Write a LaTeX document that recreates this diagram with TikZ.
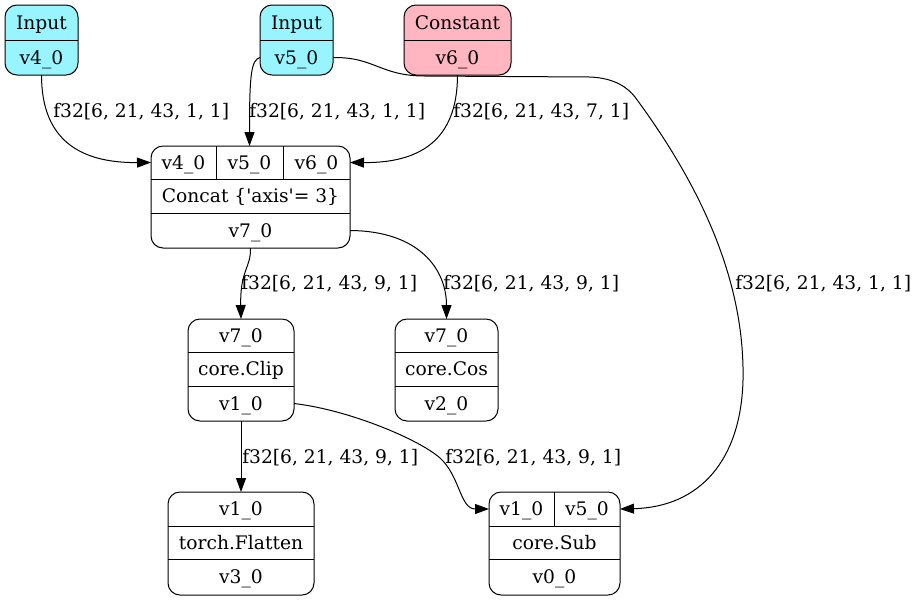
\documentclass[tikz,border=0pt]{standalone}
\usepackage{fontspec}
\setmainfont{DejaVu Serif}
\usetikzlibrary{arrows.meta}
\definecolor{inpc}{HTML}{98F5FF}
\definecolor{constc}{HTML}{FFB6C1}
\begin{document}
\begin{tikzpicture}[x=0.75pt,y=-0.75pt,
  font=\fontsize{14pt}{16pt}\selectfont,
  recbox/.style={draw, rounded corners=9pt, inner sep=0pt, outer sep=0pt, line width=0.75pt},
  sz/.style 2 args={minimum width=#1*0.75pt, minimum height=#2*0.75pt},
  fld/.style={inner sep=0pt, anchor=center, text height=10.2pt, text depth=0pt},
  lbl/.style={inner sep=0pt, anchor=west, text height=10.2pt, text depth=0pt},
  conn/.style={line width=0.75pt, -{Triangle[length=10.5pt,width=7.5pt]}},
  divl/.style={line width=0.7pt}]
\useasboundingbox (0,0) rectangle (917,601);

% Input v4_0
\node[recbox, fill=inpc, sz={73}{70}] (in4) at (41.5,40) {};
\draw[divl] (5,40) -- (78,40);
\node[fld] (in4t) at (41.5,22.5) {Input};
\node[fld] (in4b) at (41.5,57.5) {v4\_0};

% Input v5_0
\node[recbox, fill=inpc, sz={73}{70}] (in5) at (296.5,40) {};
\draw[divl] (260,40) -- (333,40);
\node[fld] (in5t) at (296.5,22.5) {Input};
\node[fld] (in5b) at (296.5,57.5) {v5\_0};

% Constant v6_0
\node[recbox, fill=constc, sz={107}{70}] (in6) at (457.5,40) {};
\draw[divl] (404,40) -- (511,40);
\node[fld] (in6t) at (457.5,22.5) {Constant};
\node[fld] (in6b) at (457.5,57.5) {v6\_0};

% Concat
\node[recbox, sz={199}{102}] (cc) at (250.5,197) {};
\draw[divl] (151,179) -- (350,179);
\draw[divl] (151,213) -- (350,213);
\draw[divl] (216,146) -- (216,179);
\draw[divl] (283,146) -- (283,179);
\node[fld] (cc4) at (183.5,162.5) {v4\_0};
\node[fld] (cc5) at (249.5,162.5) {v5\_0};
\node[fld] (cc6) at (316.5,162.5) {v6\_0};
\node[fld] (ccop) at (250.5,196) {Concat \{\textquotesingle axis\textquotesingle= 3\}};
\node[fld] (cc7) at (250.5,230.5) {v7\_0};

% Clip
\node[recbox, sz={106}{102}] (cl) at (241,370) {};
\draw[divl] (188,352) -- (294,352);
\draw[divl] (188,386) -- (294,386);
\node[fld] (clin) at (241,335.5) {v7\_0};
\node[fld] (clop) at (241,369) {core.Clip};
\node[fld] (cl1) at (241,403.5) {v1\_0};

% Cos
\node[recbox, sz={103}{102}] (cs) at (446.5,370) {};
\draw[divl] (395,352) -- (498,352);
\draw[divl] (395,386) -- (498,386);
\node[fld] (csin) at (446.5,335.5) {v7\_0};
\node[fld] (csop) at (446.5,369) {core.Cos};
\node[fld] (cs2) at (446.5,403.5) {v2\_0};

% Flatten
\node[recbox, sz={146}{103}] (fl) at (241,543.5) {};
\draw[divl] (168,526) -- (314,526);
\draw[divl] (168,559) -- (314,559);
\node[fld] (flin) at (241,509) {v1\_0};
\node[fld] (flop) at (241,542.5) {torch.Flatten};
\node[fld] (fl3) at (241,577) {v3\_0};

% Sub
\node[recbox, sz={131}{103}] (sb) at (554.5,543.5) {};
\draw[divl] (489,526) -- (620,526);
\draw[divl] (489,559) -- (620,559);
\draw[divl] (554,492) -- (554,526);
\node[fld] (sb1) at (521.5,509) {v1\_0};
\node[fld] (sb5) at (587,509) {v5\_0};
\node[fld] (sbop) at (554.5,542.5) {core.Sub};
\node[fld] (sb0) at (554.5,577) {v0\_0};

% connectors
\draw[conn] (in4.south) .. controls (41.5,140) and (80,163) .. (cc.west |- cc4);
\draw[conn] (in5.west |- in5b) .. controls (251,60) and (249.5,75) .. (cc5 |- cc.north);
\draw[conn] (in6.south) .. controls (457.5,140) and (420,163) .. (cc.east |- cc6);
\draw[conn] (in5.east |- in5b) .. controls (375,57) and (380,76) .. (425,76)
  -- (590,77) .. controls (615,78) and (628,88) .. (635,97)
  .. controls (700,185) and (745,280) .. (743,380)
  .. controls (741,460) and (700,507) .. (sb.east |- sb5);
\draw[conn] (cc.south) .. controls (251,268) and (240,270) .. (cl.north);
\draw[conn] (cc.east |- cc7) .. controls (420,231) and (446.5,270) .. (cs.north);
\draw[conn] (cl.south) -- (fl.north);
\draw[conn] (cl.east |- cl1) .. controls (350,410) and (420,440) .. (440,458)
  .. controls (460,476) and (460,509) .. (sb.west |- sb1);

% labels
\node[lbl] (l1) at (53,110.5) {f32[6, 21, 43, 1, 1]};
\node[lbl] (l2) at (249,110.5) {f32[6, 21, 43, 1, 1]};
\node[lbl] (l3) at (453,110.5) {f32[6, 21, 43, 7, 1]};
\node[lbl] (l4) at (735,283) {f32[6, 21, 43, 1, 1]};
\node[lbl] (l5) at (241,283) {f32[6, 21, 43, 9, 1]};
\node[lbl] (l6) at (443,283) {f32[6, 21, 43, 9, 1]};
\node[lbl] (l7) at (242,456.5) {f32[6, 21, 43, 9, 1]};
\node[lbl] (l8) at (445,456.5) {f32[6, 21, 43, 9, 1]};
\end{tikzpicture}
\end{document}
